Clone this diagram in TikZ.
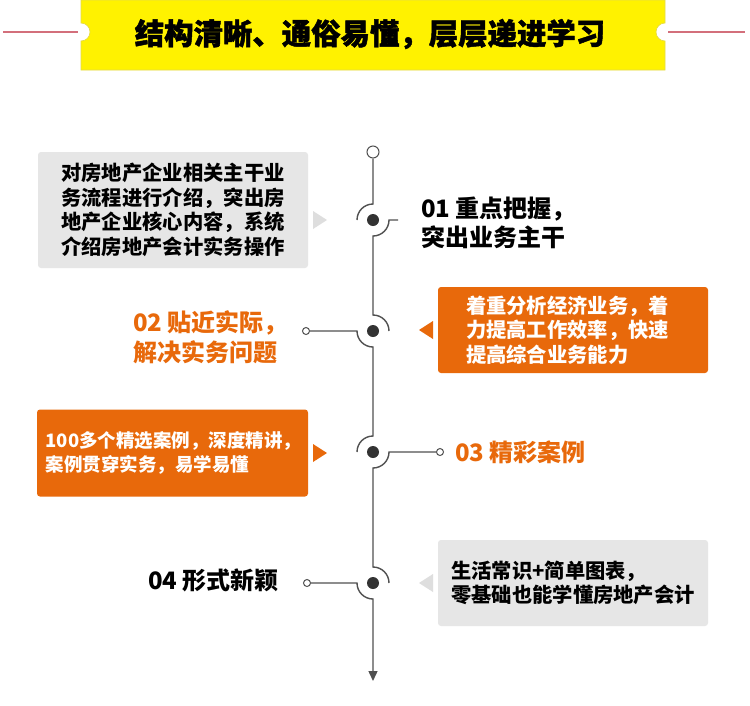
\documentclass[tikz,border=0pt]{standalone}
\usepackage{fontspec}
\setmainfont{Noto Sans CJK SC}
\usetikzlibrary{arrows.meta}
\definecolor{orng}{HTML}{E8690B}
\definecolor{boxg}{HTML}{E6E6E6}
\definecolor{trig}{HTML}{DEDEDE}
\definecolor{linec}{HTML}{505050}
\definecolor{dotc}{HTML}{333333}
\definecolor{ylw}{HTML}{FFF200}
\definecolor{ylwb}{HTML}{E3D94A}
\definecolor{redl}{HTML}{D36F7B}
\tikzset{
  tl/.style={draw=linec, line width=1.4pt},
  dotn/.style={circle, fill=dotc, inner sep=0pt, minimum size=12pt},
  ocirc/.style={circle, draw=linec, fill=white, line width=1pt, inner sep=0pt, minimum size=7pt},
  boxbase/.style={rounded corners=3pt, inner ysep=0pt, font=\fontsize{20.3}{24.5}\selectfont\bfseries},
  gbox/.style={boxbase, fill=boxg, text=black},
  obox/.style={boxbase, fill=orng, text=white},
  lbl/.style={anchor=west, align=left, inner sep=0pt, font=\fontsize{24}{29.5}\selectfont\bfseries},
}
\begin{document}
\begin{tikzpicture}[x=1pt,y=-1pt]
\useasboundingbox (0,0) rectangle (750,705);
\fill[white] (0,0) rectangle (750,705);
% banner
\fill[ylw, draw=ylwb, line width=0.6pt] (81,0) -- (665,0) -- (665,23) arc[start angle=90,end angle=270,radius=9pt] -- (665,70) -- (81,70) -- (81,41) arc[start angle=-90,end angle=90,radius=9pt] -- cycle;
\coordinate (rl1) at (3,32); \coordinate (rl2) at (78,32);
\coordinate (rr1) at (668,32); \coordinate (rr2) at (745,32);
\draw[redl, line width=1.5pt] (rl1) -- (rl2);
\draw[redl, line width=1.5pt] (rr1) -- (rr2);
\node[font=\fontsize{29.4}{30}\selectfont\bfseries\addfontfeature{FakeBold=1.5}] (title) at (370,34) {结构清晰、通俗易懂，层层递进学习};
% boxes
\node[gbox, minimum width=270pt, minimum height=116pt, align=center] (b1) at (173,210) {对房地产企业相关主干业\\务流程进行介绍，突出房\\地产企业核心内容，系统\\介绍房地产会计实务操作};
\node[obox, minimum width=270pt, minimum height=86pt, text width=214pt, align=left] (b2) at (573,330) {着重分析经济业务，着\\力提高工作效率，快速\\提高综合业务能力};
\node[obox, minimum width=271pt, minimum height=87pt, text width=254pt, align=left, font=\fontsize{18.5}{24}\selectfont\bfseries] (b3) at (172.5,453) {100多个精选案例，深度精讲，\\案例贯穿实务，易学易懂};
\node[gbox, minimum width=270pt, minimum height=86pt, align=left] (b4) at (573,583) {生活常识+简单图表，\\零基础也能学懂房地产会计};
% pointers
\fill[trig] (313,211) -- (327,220) -- (313,229) -- cycle;
\fill[orng] (433,321) -- (419,330) -- (433,339) -- cycle;
\fill[orng] (313,444) -- (327,453) -- (313,462) -- cycle;
\fill[trig] (433,574) -- (419,583) -- (433,592) -- cycle;
% labels
\node[lbl] (l1) at (421,223) {01 重点把握，\\突出业务主干};
\node[lbl, text=orng] (l2) at (133,337) {02 贴近实际，\\解决实务问题};
\node[lbl, text=orng] (l3) at (455,452) {03 精彩案例};
\node[lbl] (l4) at (148,580) {04 形式新颖};
% timeline
\node[ocirc, minimum size=12pt] (tc) at (373,152) {};
\node[dotn] (d1) at (373,220) {};
\node[dotn] (d2) at (373,331) {};
\node[dotn] (d3) at (373,452) {};
\node[dotn] (d4) at (373,583) {};
\node[ocirc] (oc2) at (306,331) {};
\node[ocirc] (oc3) at (440,452) {};
\node[ocirc] (oc4) at (307,583) {};
\coordinate (tend) at (373,681);
\draw[tl] (tc.south) -- ([yshift=16pt]d1.center) arc[start angle=90,end angle=180,radius=16pt];
\draw[tl] ([xshift=25pt]d1.center) -- ([xshift=16pt]d1.center) arc[start angle=0,end angle=-90,radius=16pt] -- ([yshift=16pt]d2.center) arc[start angle=90,end angle=0,radius=16pt];
\draw[tl] (oc2) -- ([xshift=-16pt]d2.center) arc[start angle=180,end angle=270,radius=16pt] -- ([yshift=16pt]d3.center) arc[start angle=90,end angle=180,radius=16pt];
\draw[tl] (oc3) -- ([xshift=16pt]d3.center) arc[start angle=0,end angle=-90,radius=16pt] -- ([yshift=16pt]d4.center) arc[start angle=90,end angle=0,radius=16pt];
\draw[tl, -{Triangle[length=10pt,width=9pt]}] (oc4) -- ([xshift=-16pt]d4.center) arc[start angle=180,end angle=270,radius=16pt] -- (tend);
\end{tikzpicture}
\end{document}
